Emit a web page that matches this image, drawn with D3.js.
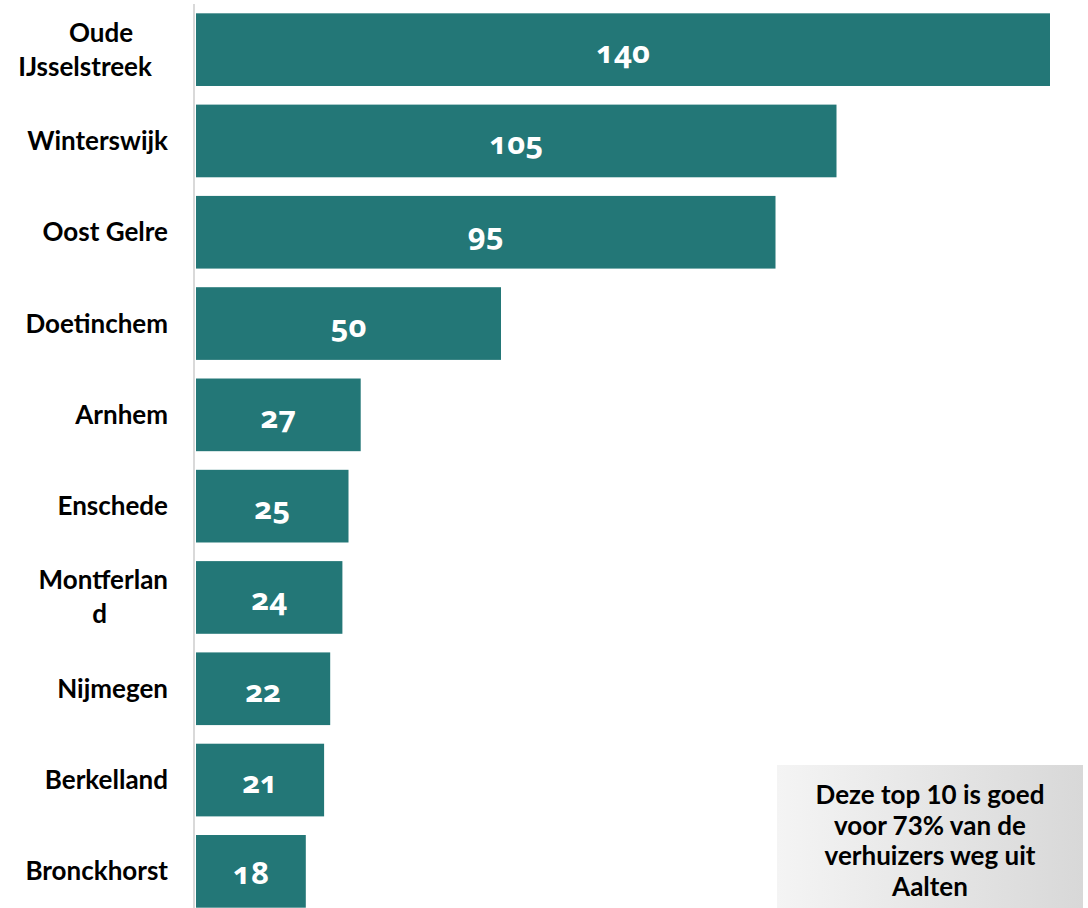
<!DOCTYPE html>
<html>
<head>
<meta charset="utf-8">
<script src="https://cdn.jsdelivr.net/npm/d3@7"></script>
<style>
  body { margin: 0; background: #fff; }
  svg { display: block; }
  .cat { font-family: Lato, "Open Sans", sans-serif; font-weight: 700; font-size: 26px; fill: #000; }
  .val { font-family: "Open Sans", Lato, sans-serif; font-weight: 700; font-size: 31px; fill: #fff;
         font-variant-numeric: oldstyle-nums; font-feature-settings: "onum" 1; }
  .note { font-family: Lato, "Open Sans", sans-serif; font-weight: 700; font-size: 26px; fill: #000; }
</style>
</head>
<body>
<div id="svg_container"></div>
<script>
/* -----------------------
data
------------------------- */

var gemeenten = ["Oude IJsselstreek", "Winterswijk", "Oost Gelre", "Doetinchem", "Arnhem",
                 "Enschede", "Montferland", "Nijmegen", "Berkelland", "Bronckhorst"];
var verhuizers = [140, 105, 95, 50, 27, 25, 24, 22, 21, 18];
// label lines as wrapped in the picture
var labelLines = [["Oude", "IJsselstreek"], ["Winterswijk"], ["Oost Gelre"], ["Doetinchem"], ["Arnhem"],
                  ["Enschede"], ["Montferlan", "d"], ["Nijmegen"], ["Berkelland"], ["Bronckhorst"]];
var noteLines = ["Deze top 10 is goed", "voor 73% van de", "verhuizers weg uit", "Aalten"];

/* -----------------------
set plot
------------------------- */

var width = 1088, height = 908;
var x0 = 196;

var svg = d3.select("#svg_container")
  .append("svg")
  .attr("width", width)
  .attr("height", height);

var x = d3.scaleLinear()
  .domain([0, 140])
  .range([x0, 1050]);

var y = d3.scaleBand()
  .domain(gemeenten)
  .range([4, 917])
  .paddingInner(0.204)
  .paddingOuter(0.102);

var data = gemeenten.map(function (g, i) {
  return {naam: g, waarde: verhuizers[i], lines: labelLines[i]};
});

/* -----------------------
bars
------------------------- */

svg.selectAll(".bar")
  .data(data)
  .enter()
  .append("rect")
  .attr("class", "bar")
  .attr("x", x(0))
  .attr("y", function (d) { return y(d.naam); })
  .attr("width", function (d) { return x(d.waarde) - x(0); })
  .attr("height", y.bandwidth())
  .attr("fill", "#237777");

// axis line
svg.append("line")
  .attr("x1", x0 - 2).attr("x2", x0 - 2)
  .attr("y1", 4).attr("y2", height)
  .attr("stroke", "#d9d9d9")
  .attr("stroke-width", 2);

svg.selectAll(".val")
  .data(data)
  .enter()
  .append("text")
  .attr("class", "val")
  .attr("text-anchor", "middle")
  .attr("x", function (d) { return (x(0) + x(d.waarde)) / 2; })
  .attr("y", function (d) { return y(d.naam) + y.bandwidth() / 2 + 13; })
  .text(function (d) { return d.waarde; });

/* -----------------------
category labels
------------------------- */

var lh = 34;
var cat = svg.selectAll(".cat")
  .data(data)
  .enter()
  .append("text")
  .attr("class", "cat")
  .attr("text-anchor", "end")
  .attr("transform", function (d) {
    var cy = y(d.naam) + y.bandwidth() / 2;
    return "translate(0," + (cy + 9 - (d.lines.length - 1) * lh / 2) + ")";
  });

cat.selectAll("tspan")
  .data(function (d) { return d.lines; })
  .enter()
  .append("tspan")
  .attr("x", 168)
  .attr("dy", function (d, i) { return i === 0 ? 0 : lh; })
  .text(function (d) { return d; });

// wrapped labels: lines centred on the block, block right-aligned at 168
cat.filter(function (d) { return d.lines.length > 1; })
  .attr("text-anchor", "middle")
  .selectAll("tspan")
  .attr("x", function () { return 168 - this.parentNode.getBBox().width / 2; });

/* -----------------------
note box
------------------------- */

var grad = svg.append("defs").append("linearGradient")
  .attr("id", "boxgrad")
  .attr("x1", "0%").attr("x2", "100%");
grad.append("stop").attr("offset", "0%").attr("stop-color", "#f4f4f4");
grad.append("stop").attr("offset", "100%").attr("stop-color", "#d8d8d8");

svg.append("rect")
  .attr("x", 777).attr("y", 765)
  .attr("width", 306).attr("height", 150)
  .attr("fill", "url(#boxgrad)");

svg.append("text")
  .attr("class", "note")
  .attr("text-anchor", "middle")
  .selectAll("tspan")
  .data(noteLines)
  .enter()
  .append("tspan")
  .attr("x", 930)
  .attr("y", function (d, i) { return 804 + i * 30.5; })
  .text(function (d) { return d; });
</script>
</body>
</html>
